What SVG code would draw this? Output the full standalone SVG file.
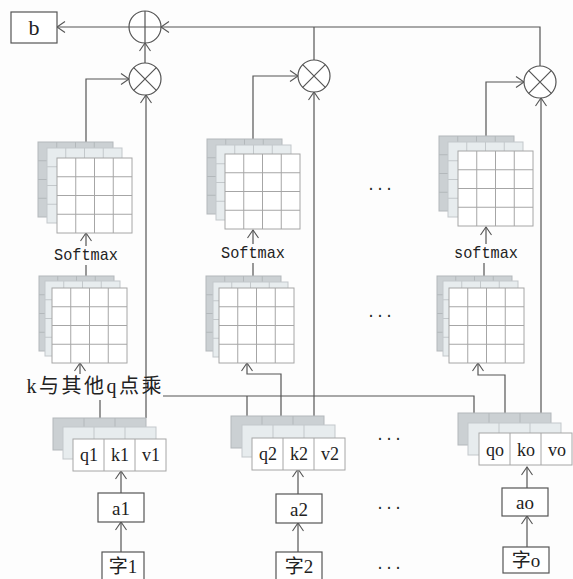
<svg xmlns="http://www.w3.org/2000/svg" xmlns:xlink="http://www.w3.org/1999/xlink" width="573" height="579" viewBox="0 0 573 579">
<style>
.bg{fill:#fdfdfd}
.ln{fill:none;stroke:#555;stroke-width:1.2}
.box{fill:#fff;stroke:#555;stroke-width:1.2}
.op{fill:#fff;stroke:#555;stroke-width:1.2}
.back{fill:#cbd0d3;stroke:#b3b8bb;stroke-width:1}
.mid{fill:#e7ecee;stroke:#c3c8cb;stroke-width:1}
.front{fill:#fff;stroke:#a6a6a6;stroke-width:1}
.t{font-family:"Liberation Serif","Noto Sans CJK SC",serif;fill:#222;text-anchor:middle;dominant-baseline:central}
.m{font-family:"Liberation Mono",monospace;fill:#222;text-anchor:middle;dominant-baseline:central;font-size:17px}
.d{font-family:"Liberation Mono",monospace;fill:#222;text-anchor:middle;dominant-baseline:central;font-size:15px}
</style>
<defs>
<marker id="ar" viewBox="-9 -6 10 12" refX="0" refY="0" markerWidth="10" markerHeight="12" markerUnits="userSpaceOnUse" orient="auto">
<path d="M-8,-5.5 L0,0 L-8,5.5" fill="none" stroke="#555" stroke-width="1.1"/>
</marker>
<g id="grid">
<rect x="0" y="0" width="75" height="75"/>
<path d="M18.75,0V75M37.5,0V75M56.25,0V75M0,18.75H75M0,37.5H75M0,56.25H75" fill="none"/>
</g>
<g id="row">
<rect x="0" y="0" width="93" height="32"/>
<path d="M31,0V32M62,0V32" fill="none"/>
</g>
<g id="mul">
<circle cx="0" cy="0" r="16"/>
<path d="M-11.3,-11.3L11.3,11.3M-11.3,11.3L11.3,-11.3" fill="none"/>
</g>
</defs>
<rect class="bg" x="0" y="0" width="573" height="579"/>

<g id="connectors">
<path class="ln" d="M129,27H57" marker-end="url(#ar)"/>
<path class="ln" d="M540,66V27H161" marker-end="url(#ar)"/>
<path class="ln" d="M314,60V27"/>
<path class="ln" d="M145,63V43" marker-end="url(#ar)"/>
<path class="ln" d="M86,142V79H129" marker-end="url(#ar)"/>
<path class="ln" d="M146,418V95" marker-end="url(#ar)"/>
<path class="ln" d="M253,139V76H298" marker-end="url(#ar)"/>
<path class="ln" d="M314,416V92" marker-end="url(#ar)"/>
<path class="ln" d="M486,136V82H524" marker-end="url(#ar)"/>
<path class="ln" d="M541,413V98" marker-end="url(#ar)"/>
<path class="ln" d="M86,246V233" marker-end="url(#ar)"/>
<path class="ln" d="M86,265V276"/>
<path class="ln" d="M253,244V230" marker-end="url(#ar)"/>
<path class="ln" d="M253,263V276"/>
<path class="ln" d="M486,244V227" marker-end="url(#ar)"/>
<path class="ln" d="M484,263V276"/>
<path class="ln" d="M80,374V363" marker-end="url(#ar)"/>
<path class="ln" d="M100,400V418"/>
<path class="ln" d="M163,396H474V413"/>
<path class="ln" d="M247,396V416"/>
<path class="ln" d="M281,416V374H247V363" marker-end="url(#ar)"/>
<path class="ln" d="M505,413V375H478V363" marker-end="url(#ar)"/>
<path class="ln" d="M121,493V471" marker-end="url(#ar)"/>
<path class="ln" d="M121,552V522" marker-end="url(#ar)"/>
<path class="ln" d="M298,494V469" marker-end="url(#ar)"/>
<path class="ln" d="M298,552V523" marker-end="url(#ar)"/>
<path class="ln" d="M527,488V467" marker-end="url(#ar)"/>
<path class="ln" d="M527,547V516" marker-end="url(#ar)"/>
</g>

<g id="b">
<rect class="box" x="11" y="12" width="46" height="31"/>
<text class="t" x="34" y="27" font-size="22">b</text>
</g>
<g id="plus">
<circle class="op" cx="145" cy="27" r="16"/>
<path class="ln" d="M129,27H161M145,11V43"/>
</g>
<g id="mul1"><use href="#mul" class="op" x="145" y="79"/></g>
<g id="mul2"><use href="#mul" class="op" x="314" y="76"/></g>
<g id="mul3"><use href="#mul" class="op" x="540" y="82"/></g>

<g id="softmax1">
<use href="#grid" class="back" x="38" y="142"/>
<use href="#grid" class="mid" x="47" y="148"/>
<use href="#grid" class="front" x="57" y="158"/>
</g>
<g id="softmax2">
<use href="#grid" class="back" x="207" y="139"/>
<use href="#grid" class="mid" x="216" y="145"/>
<use href="#grid" class="front" x="225" y="154"/>
</g>
<g id="softmax3">
<use href="#grid" class="back" x="439" y="136"/>
<use href="#grid" class="mid" x="448" y="142"/>
<use href="#grid" class="front" x="458" y="151"/>
</g>
<g id="dot1">
<use href="#grid" class="back" x="39" y="276"/>
<use href="#grid" class="mid" x="45" y="281"/>
<use href="#grid" class="front" x="52" y="288"/>
</g>
<g id="dot2">
<use href="#grid" class="back" x="206" y="276"/>
<use href="#grid" class="mid" x="213" y="282"/>
<use href="#grid" class="front" x="219" y="288"/>
</g>
<g id="dot3">
<use href="#grid" class="back" x="437" y="276"/>
<use href="#grid" class="mid" x="443" y="281"/>
<use href="#grid" class="front" x="449" y="288"/>
</g>

<g id="sm-labels">
<text class="m" x="86" y="255" textLength="64" lengthAdjust="spacingAndGlyphs">Softmax</text>
<text class="m" x="253" y="253" textLength="64" lengthAdjust="spacingAndGlyphs">Softmax</text>
<text class="m" x="486" y="253" textLength="64" lengthAdjust="spacingAndGlyphs">softmax</text>
</g>

<g id="klabel">
<text class="t" x="94" y="386" font-size="20" textLength="135" lengthAdjust="spacing">k与其他q点乘</text>
</g>

<g id="qkv1">
<use href="#row" class="back" x="53" y="418"/>
<use href="#row" class="mid" x="63" y="427"/>
<use href="#row" class="front" x="73" y="439"/>
<text class="t" x="89" y="455" font-size="18">q1</text>
<text class="t" x="120" y="455" font-size="18">k1</text>
<text class="t" x="151" y="455" font-size="18">v1</text>
</g>
<g id="qkv2">
<use href="#row" class="back" x="231" y="416"/>
<use href="#row" class="mid" x="242" y="425"/>
<use href="#row" class="front" x="252" y="438"/>
<text class="t" x="268" y="454" font-size="18">q2</text>
<text class="t" x="299" y="454" font-size="18">k2</text>
<text class="t" x="330" y="454" font-size="18">v2</text>
</g>
<g id="qkv3">
<use href="#row" class="back" x="458" y="413"/>
<use href="#row" class="mid" x="468" y="423"/>
<use href="#row" class="front" x="479" y="433"/>
<text class="t" x="495" y="450" font-size="18">qo</text>
<text class="t" x="526" y="450" font-size="18">ko</text>
<text class="t" x="557" y="450" font-size="18">vo</text>
</g>

<g id="a1"><rect class="box" x="98" y="493" width="46" height="29"/><text class="t" x="121" y="508" font-size="19">a1</text></g>
<g id="a2"><rect class="box" x="276" y="494" width="46" height="29"/><text class="t" x="299" y="509" font-size="19">a2</text></g>
<g id="ao"><rect class="box" x="502" y="488" width="46" height="28"/><text class="t" x="525" y="502" font-size="19">ao</text></g>
<g id="w1"><rect class="box" x="102" y="552" width="42" height="32"/><text class="t" x="123" y="566" font-size="19">字1</text></g>
<g id="w2"><rect class="box" x="276" y="552" width="46" height="32"/><text class="t" x="299" y="566" font-size="19">字2</text></g>
<g id="wo"><rect class="box" x="503" y="547" width="46" height="26"/><text class="t" x="526" y="560" font-size="19">字o</text></g>

<g id="dots">
<text class="d" x="380" y="186">...</text>
<text class="d" x="380" y="313">...</text>
<text class="d" x="389" y="436">...</text>
<text class="d" x="389" y="505">...</text>
<text class="d" x="389" y="565">...</text>
</g>
</svg>
